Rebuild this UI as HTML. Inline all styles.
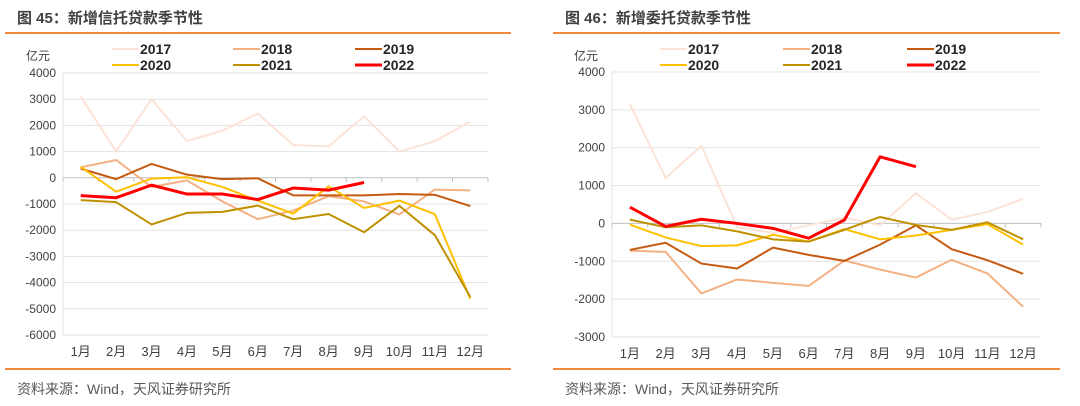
<!DOCTYPE html>
<html><head><meta charset="utf-8">
<style>
html,body{margin:0;padding:0;background:#fff;}
body{width:1080px;height:406px;position:relative;overflow:hidden;font-family:"Liberation Sans","Noto Sans CJK SC",sans-serif;}
svg{position:absolute;left:0;top:0;}
</style></head>
<body>
<svg id="svg" width="1080" height="406"></svg>
<script>
const months = ["1月","2月","3月","4月","5月","6月","7月","8月","9月","10月","11月","12月"];
const years = ["2017","2018","2019","2020","2021","2022"];
const colors = ["#fbe3d7","#f4b183","#c55a11","#ffc000","#bf9000","#ff0000"];
const leftTicks = [4000,3000,2000,1000,0,-1000,-2000,-3000,-4000,-5000,-6000];
const rightTicks = [4000,3000,2000,1000,0,-1000,-2000,-3000];
const trust2017 = [3100,1000,3000,1400,1800,2450,1250,1200,2350,1000,1400,2150];
const trust2018 = [400,680,-350,-100,-900,-1580,-1250,-700,-900,-1400,-450,-480];
const trust2019 = [350,-50,530,120,-50,-20,-670,-670,-670,-620,-650,-1080];
const trust2020 = [420,-530,-30,20,-350,-870,-1370,-330,-1150,-870,-1390,-4620];
const trust2021 = [-850,-930,-1780,-1340,-1300,-1060,-1580,-1380,-2080,-1070,-2190,-4550];
const trust2022 = [-680,-760,-280,-620,-620,-830,-390,-470,-180];
const ent2017 = [3150,1200,2050,-100,-250,-50,150,-50,800,100,300,650];
const ent2018 = [-720,-750,-1850,-1480,-1570,-1650,-980,-1220,-1430,-960,-1320,-2200];
const ent2019 = [-700,-510,-1060,-1190,-640,-830,-990,-560,-50,-680,-970,-1330];
const ent2020 = [-30,-370,-600,-580,-300,-480,-150,-420,-320,-170,-20,-560];
const ent2021 = [100,-100,-50,-210,-420,-480,-170,170,-40,-170,30,-420];
const ent2022 = [430,-80,110,0,-130,-390,90,1760,1500];

const NS="http://www.w3.org/2000/svg";
const svg=document.getElementById('svg');
function mk(tag,attrs,parent){const e=document.createElementNS(NS,tag);for(const k in attrs)e.setAttribute(k,attrs[k]);(parent||svg).appendChild(e);return e;}

function panel(cfg){
  const g=mk('g',{});
  
  
  const t=mk('text',{x:cfg.titleX,y:23,'font-size':15,'font-weight':'bold',fill:'#404040'},g);
  t.textContent=cfg.title;
  
  
  mk('line',{x1:cfg.lineX1,x2:cfg.lineX2,y1:33,y2:33,stroke:'#f08a3c','stroke-width':2},g);
  mk('line',{x1:cfg.lineX1,x2:cfg.lineX2,y1:369,y2:369,stroke:'#f08a3c','stroke-width':2},g);
  const s=mk('text',{x:cfg.titleX,y:394,'font-size':14,fill:'#595959'},g);
  s.textContent='资料来源：Wind，天风证券研究所';
  
  
  const u=mk('text',{x:cfg.unitX,y:60,'font-size':12,fill:'#404040'},g);
  u.textContent='亿元';
  
  
  const {x0,x1,yTop,yBot,vTop,vBot}=cfg;
  const yS=v=>yTop+(vTop-v)/(vTop-vBot)*(yBot-yTop);
  const step=(x1-x0)/months.length;
  const xS=i=>x0+step*(i+0.5);
  cfg.ticks.forEach(v=>{
    if(v!==0) mk('line',{x1:x0,x2:x1,y1:yS(v),y2:yS(v),stroke:'#e3e3e3','stroke-width':1},g);
    const tl=mk('text',{x:x0-7,y:yS(v)+4,'font-size':12,fill:'#404040','text-anchor':'end'},g);
    tl.textContent=v;
    
    
  });
  mk('line',{x1:x0,x2:x0,y1:yTop,y2:yBot,stroke:'#e3e3e3'},g);
  mk('line',{x1:x0,x2:x1,y1:yS(0),y2:yS(0),stroke:'#bfbfbf','stroke-width':1},g);
  for(let i=0;i<=months.length;i++) mk('line',{x1:x0+step*i,x2:x0+step*i,y1:yS(0),y2:yS(0)+4,stroke:'#bfbfbf'},g);
  months.forEach((m,i)=>{
    const ml=mk('text',{x:xS(i),y:yBot+21,'font-size':13,fill:'#404040','text-anchor':'middle'},g);
    ml.textContent=m;
    
    
  });
  cfg.series.forEach((d,k)=>{
    const p=mk('polyline',{points:d.map((v,i)=>xS(i)+','+yS(v)).join(' '),fill:'none',stroke:colors[k],'stroke-width':k===5?3:2,'stroke-linejoin':'round'},g);
    
    
  });
  years.forEach((y,k)=>{
    const col=k%3,row=Math.floor(k/3);
    const lx=cfg.legX[col],ly=row?65:49;
    mk('line',{x1:lx,x2:lx+27,y1:ly,y2:ly,stroke:colors[k],'stroke-width':k===5?3:2},g);
    const lt=mk('text',{x:lx+28,y:ly+5,'font-size':14,'font-weight':'bold',fill:'#262626'},g);
    lt.textContent=y;
    
    
  });
}
panel({name:'trust-loan-chart',title:'图 45：新增信托贷款季节性',titleX:17,lineX1:5,lineX2:511,unitX:26,
  x0:63,x1:488,yTop:73,yBot:335,vTop:4000,vBot:-6000,ticks:leftTicks,legX:[112,233,355],
  series:[trust2017,trust2018,trust2019,trust2020,trust2021,trust2022]});
panel({name:'entrusted-loan-chart',title:'图 46：新增委托贷款季节性',titleX:565,lineX1:553,lineX2:1060,unitX:574,
  x0:612,x1:1041,yTop:72,yBot:337,vTop:4000,vBot:-3000,ticks:rightTicks,legX:[660,783,907],
  series:[ent2017,ent2018,ent2019,ent2020,ent2021,ent2022]});
</script>
</body></html>
